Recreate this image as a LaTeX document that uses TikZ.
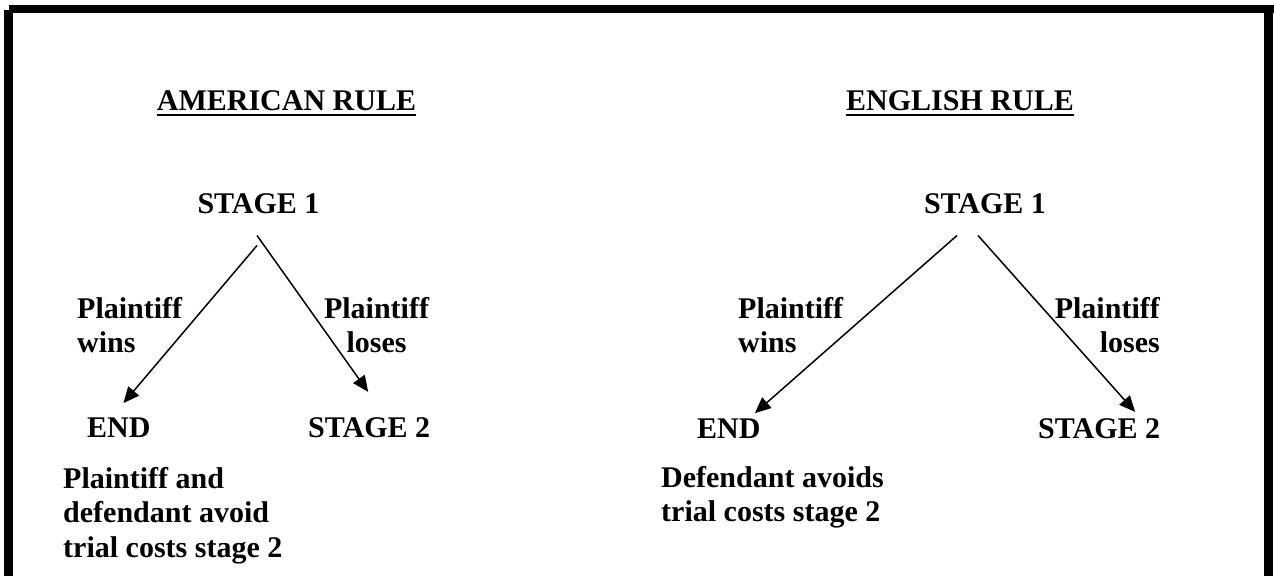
\documentclass[tikz,border=0pt]{standalone}
\usepackage{fontspec}
\setmainfont{Liberation Serif}
\usetikzlibrary{positioning, calc, arrows.meta}
\tikzset{txt/.style = {inner sep=0pt, font=\fontsize{30}{34.5}\selectfont\bfseries},
         arr/.style = {line width=1.5pt, -{Triangle[length=16pt,width=14pt]}}}

\begin{document}
\begin{tikzpicture}[x=1pt,y=-1pt,every node/.style=txt]
\useasboundingbox (0,0) rectangle (1274,576);
% frame, open at the bottom
\fill (9,5) rectangle (1274,13);
\fill (4,10) rectangle (13,576);
\fill (1264,10) rectangle (1273,576);

% american rule
\node [anchor=base] (amtitle) at (286.5,110) {AMERICAN RULE};
\draw [line width=2.5pt] ([yshift=-4.5pt]amtitle.south west) -- ([yshift=-4.5pt]amtitle.south east);
\node [anchor=base] (amst1) at (258.5,213) {STAGE 1};
\node [anchor=base west] (amend) at (87,437) {END};
\node [anchor=base west] (amst2) at (308,437) {STAGE 2};
\node [anchor=north west, align=left] (amwins) at (77,297) {Plaintiff\\wins};
\node [anchor=north, align=center] (amloses) at (376.5,297) {Plaintiff\\loses};
\node [anchor=north west, align=left] (amnote) at (63,467) {Plaintiff and\\defendant avoid\\trial costs stage 2};
\draw [arr] ($(amst1.south)+(-1.5,32)$) -- ($(amend.north)+(4.5,-14)$);
\draw [arr] ($(amst1.south)+(-1.5,22)$) -- ($(amst2.north)+(-1,-25)$);

% english rule
\node [anchor=base] (entitle) at (960,110) {ENGLISH RULE};
\draw [line width=2.5pt] ([yshift=-4.5pt]entitle.south west) -- ([yshift=-4.5pt]entitle.south east);
\node [anchor=base] (enst1) at (985,213) {STAGE 1};
\node [anchor=base west] (enend) at (697,438) {END};
\node [anchor=base west] (enst2) at (1038,438) {STAGE 2};
\node [anchor=north west, align=left] (enwins) at (738,297) {Plaintiff\\wins};
\node [anchor=north east, align=right] (enloses) at (1160,297) {Plaintiff\\loses};
\node [anchor=north west, align=left] (ennote) at (661,466) {Defendant avoids\\trial costs stage 2};
\draw [arr] ($(enst1.south)+(-28,22)$) -- ($(enend.north)+(26,-5)$);
\draw [arr] ($(enst1.south)+(-7,22)$) -- ($(enst2.north)+(36,-6)$);
\end{tikzpicture}
\end{document}
